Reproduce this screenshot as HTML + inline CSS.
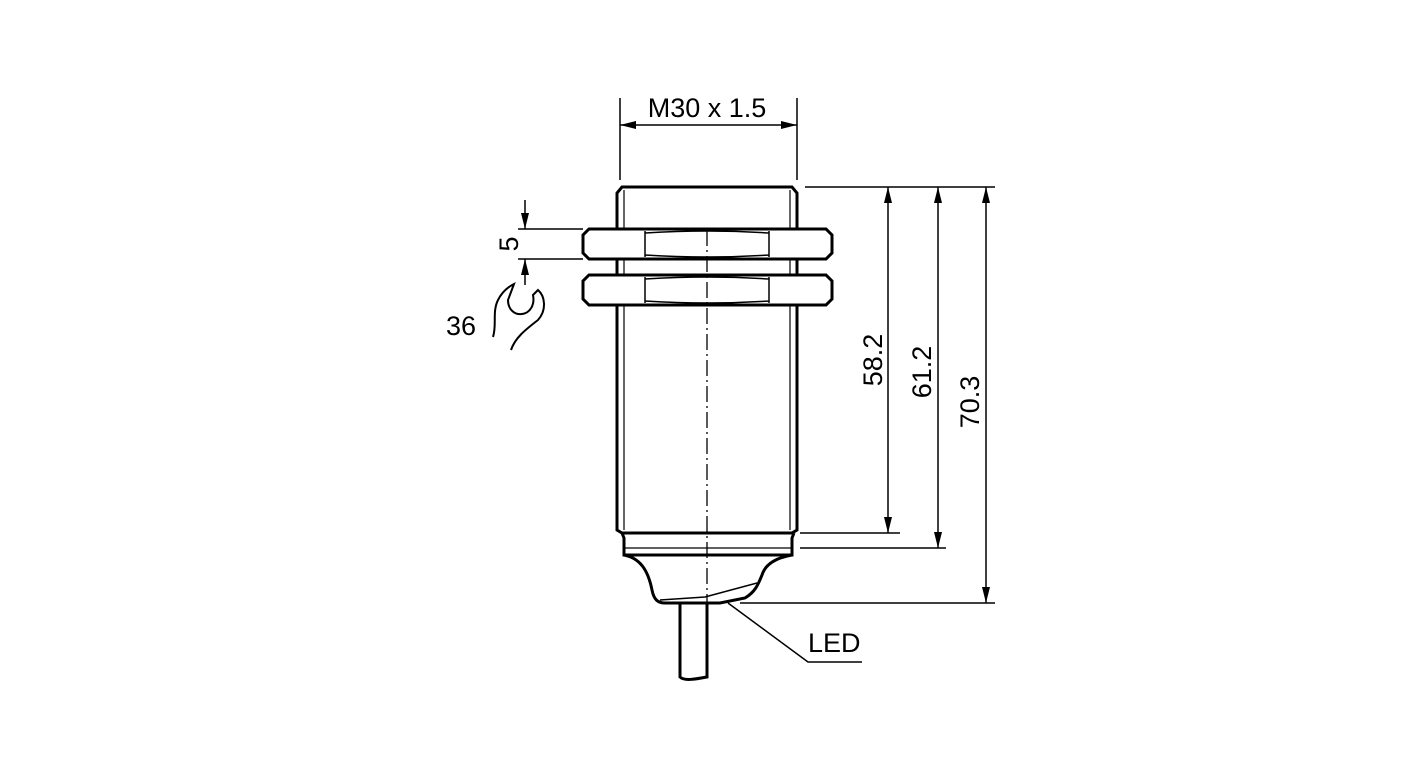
<!DOCTYPE html>
<html><head><style>body{margin:0;background:#fff}svg{display:block}</style></head><body>
<svg width="1420" height="779" viewBox="0 0 1420 779" xmlns="http://www.w3.org/2000/svg" font-family="Liberation Sans, sans-serif">
<g fill="none" stroke="#000">
<!-- body -->
<path d="M617 530 V193 L622 187 H792 L797 193 V530 L792 533 H622 Z" stroke-width="3"/>
<line x1="624" y1="190" x2="624" y2="530" stroke-width="1.2"/>
<line x1="790" y1="190" x2="790" y2="530" stroke-width="1.2"/>
<!-- nuts -->
<g stroke-width="3" fill="#fff">
<path d="M589 229 H826 L832 235 V253 L826 259 H589 L583 253 V235 Z"/>
<path d="M589 275 H826 L832 281 V299 L826 305 H589 L583 299 V281 Z"/>
</g>
<g stroke-width="1.5">
<path d="M645 233 Q708 229 769 233 M645 255 Q708 259 769 255 M645 231 V257 M769 231 V257"/>
<path d="M645 279 Q708 275 769 279 M645 301 Q708 305 769 301 M645 277 V303 M769 277 V303"/>
</g>
<!-- collar -->
<path d="M622 533 L624 538 V555 H792 V538 L794 533" stroke-width="3"/>
<line x1="624" y1="548" x2="792" y2="548" stroke-width="1.2"/>
<path d="M624 555 C640 558 648 570 652 590 C654 600 658 603 665 603 H720 L745 598 C755 592 758 585 762 575 C765 565 775 558 792 555" stroke-width="3"/>
<path d="M660 600 L705 597 L757 583" stroke-width="1.5"/>
<!-- cable -->
<path d="M680 603 V677 C685 682 700 678 707 677 V603" stroke-width="3"/>
<!-- centerline -->
<line x1="707" y1="230" x2="707" y2="640" stroke-width="1.3" stroke-dasharray="16,4,2,4"/>
<!-- dims -->
<g stroke-width="1.5">
<line x1="805" y1="187" x2="995" y2="187"/>
<line x1="800" y1="533" x2="900" y2="533"/>
<line x1="800" y1="548" x2="946" y2="548"/>
<line x1="740" y1="603" x2="995" y2="603"/>
<line x1="888" y1="187" x2="888" y2="533"/>
<line x1="938" y1="187" x2="938" y2="548"/>
<line x1="986" y1="187" x2="986" y2="603"/>
<line x1="620" y1="98" x2="620" y2="180"/>
<line x1="797" y1="98" x2="797" y2="180"/>
<line x1="620" y1="125" x2="797" y2="125"/>
<line x1="518" y1="229" x2="583" y2="229"/>
<line x1="518" y1="259" x2="583" y2="259"/>
<line x1="525" y1="200" x2="525" y2="229"/>
<line x1="525" y1="259" x2="525" y2="285"/>
<path d="M728 603 L808 662 H862"/>
</g>
<!-- wrench -->
<path d="M493 337 C497 325 492 312 498 300 C502 292 508 287 514 284 L508 300 C508 310 515 315 522 314 C530 313 535 305 533 295 L538 290 C545 296 547 310 538 320 C525 330 515 338 511 350" stroke-width="2"/>
</g>
<g fill="#000">
<path d="M888 187 l-4 16 h8 Z M888 533 l-4 -16 h8 Z"/>
<path d="M938 187 l-4 16 h8 Z M938 548 l-4 -16 h8 Z"/>
<path d="M986 187 l-4 16 h8 Z M986 603 l-4 -16 h8 Z"/>
<path d="M620 125 l16 -4 v8 Z M797 125 l-16 -4 v8 Z"/>
<path d="M525 229 l-4 -16 h8 Z M525 259 l-4 16 h8 Z"/>
</g>
<g font-size="27" fill="#000">
<text x="707" y="117" text-anchor="middle">M30 x 1.5</text>
<text x="808" y="652">LED</text>
<text x="446" y="335">36</text>
<text transform="translate(518,244) rotate(-90)" text-anchor="middle">5</text>
<text transform="translate(882,360) rotate(-90)" text-anchor="middle">58.2</text>
<text transform="translate(931,372) rotate(-90)" text-anchor="middle">61.2</text>
<text transform="translate(979,402) rotate(-90)" text-anchor="middle">70.3</text>
</g>
</svg>
</body></html>
